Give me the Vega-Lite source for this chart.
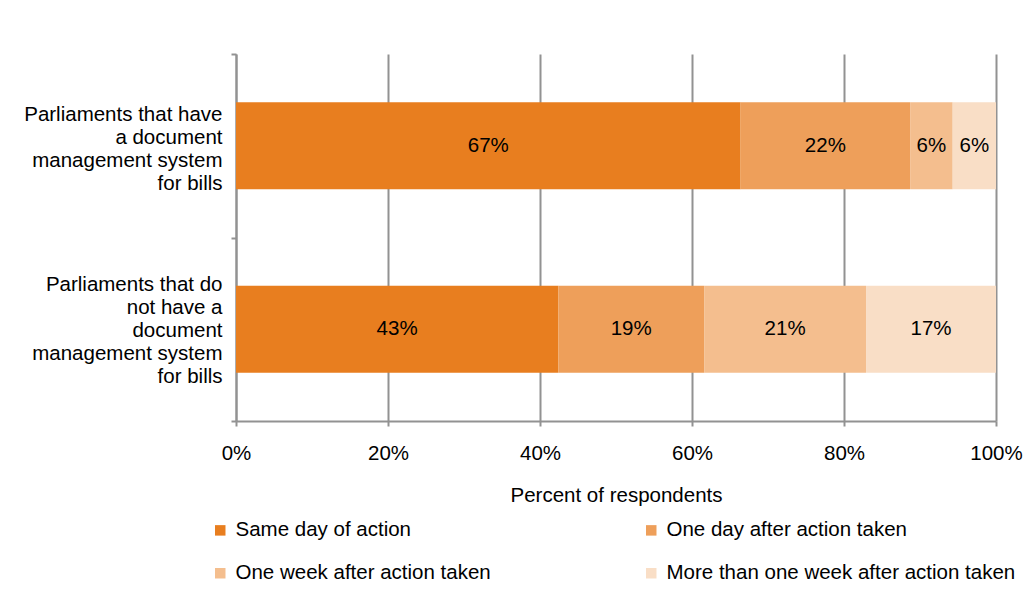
{
  "$schema": "https://vega.github.io/schema/vega-lite/v6.json",
  "width": 760,
  "height": 367,
  "autosize": {"type": "none"},
  "padding": {"left": 236, "top": 54, "right": 31, "bottom": 176},
  "background": "white",
  "config": {
    "font": "Liberation Sans",
    "view": {"stroke": null},
    "axis": {"labelColor": "#000000", "titleColor": "#000000", "labelFont": "Liberation Sans", "titleFont": "Liberation Sans"}
  },
  "data": {
    "values": [
      {"cat": "Parliaments that have|a document |management system|for bills ", "series": "Same day of action", "order": 1, "value": 66.4, "label": "67%"},
      {"cat": "Parliaments that have|a document |management system|for bills ", "series": "One day after action taken", "order": 2, "value": 22.3, "label": "22%"},
      {"cat": "Parliaments that have|a document |management system|for bills ", "series": "One week after action taken", "order": 3, "value": 5.6, "label": "6%"},
      {"cat": "Parliaments that have|a document |management system|for bills ", "series": "More than one week after action taken", "order": 4, "value": 5.7, "label": "6%"},
      {"cat": "Parliaments that do|not have a |document |management system|for bills", "series": "Same day of action", "order": 1, "value": 42.4, "label": "43%"},
      {"cat": "Parliaments that do|not have a |document |management system|for bills", "series": "One day after action taken", "order": 2, "value": 19.2, "label": "19%"},
      {"cat": "Parliaments that do|not have a |document |management system|for bills", "series": "One week after action taken", "order": 3, "value": 21.3, "label": "21%"},
      {"cat": "Parliaments that do|not have a |document |management system|for bills", "series": "More than one week after action taken", "order": 4, "value": 17.1, "label": "17%"}
    ]
  },
  "transform": [
    {"stack": "value", "groupby": ["cat"], "sort": [{"field": "order", "order": "ascending"}], "as": ["v0", "v1"]},
    {"calculate": "(datum.v0 + datum.v1) / 2", "as": "mid"}
  ],
  "resolve": {"scale": {"y": "independent"}, "axis": {"y": "independent"}},
  "layer": [
    {
      "mark": {"type": "bar", "opacity": 0},
      "encoding": {
        "y": {
          "field": "cat",
          "type": "nominal",
          "sort": null,
          "scale": {"paddingInner": 0, "paddingOuter": 0},
          "axis": {
            "orient": "left",
            "title": null,
            "labels": false,
            "tickBand": "extent",
            "tickSize": 5,
            "tickColor": "#929292",
            "tickWidth": 2,
            "domainColor": "#929292",
            "domainWidth": 2,
            "grid": false
          }
        },
        "x": {"field": "v0", "type": "quantitative"},
        "x2": {"field": "v1"}
      }
    },
    {
      "mark": {"type": "bar"},
      "encoding": {
        "y": {
          "field": "cat",
          "type": "nominal",
          "sort": null,
          "scale": {"paddingInner": 0.526, "paddingOuter": 0.263},
          "axis": null
        },
        "x": {
          "field": "v0",
          "type": "quantitative",
          "scale": {"domain": [0, 100], "nice": false},
          "axis": {
            "title": "Percent of respondents",
            "titleFontSize": 20.5,
            "titleFontWeight": "normal",
            "titlePadding": 22,
            "values": [0, 20, 40, 60, 80, 100],
            "labelExpr": "datum.value + '%'",
            "labelFontSize": 20.5,
            "labelPadding": 17,
            "labelFlush": false,
            "grid": true,
            "gridColor": "#929292",
            "gridWidth": 2,
            "tickSize": 5,
            "tickColor": "#929292",
            "tickWidth": 2,
            "domainColor": "#929292",
            "domainWidth": 2
          }
        },
        "x2": {"field": "v1"},
        "color": {
          "field": "series",
          "type": "nominal",
          "scale": {
            "domain": ["Same day of action", "One day after action taken", "One week after action taken", "More than one week after action taken"],
            "range": ["#E87E1F", "#EE9F5A", "#F4BE8E", "#F9DEC6"]
          },
          "legend": {
            "title": null,
            "orient": "none",
            "direction": "horizontal",
            "legendX": -26,
            "legendY": 466,
            "columns": 2,
            "columnPadding": 150,
            "rowPadding": 22,
            "symbolType": "square",
            "symbolSize": 110,
            "symbolStrokeWidth": 0,
            "labelFontSize": 20.5,
            "labelColor": "#000000",
            "labelOffset": 5,
            "labelLimit": 0
          }
        }
      }
    },
    {
      "mark": {"type": "text", "fontSize": 20.5, "color": "#000000", "align": "center", "baseline": "middle"},
      "encoding": {
        "y": {
          "field": "cat",
          "type": "nominal",
          "sort": null,
          "scale": {"paddingInner": 0.526, "paddingOuter": 0.263},
          "axis": {
            "orient": "left",
            "title": null,
            "labelExpr": "split(datum.value, '|')",
            "labelLineHeight": 23,
            "labelFontSize": 20.5,
            "labelLimit": 0,
            "labelPadding": 14,
            "labelOffset": {"condition": {"test": "indexof(datum.value, 'that do') >= 0", "value": -44.5}, "value": -31.5},
            "ticks": false,
            "tickSize": 0,
            "domain": false,
            "grid": false
          }
        },
        "x": {"field": "mid", "type": "quantitative"},
        "text": {"field": "label"}
      }
    }
  ]
}
